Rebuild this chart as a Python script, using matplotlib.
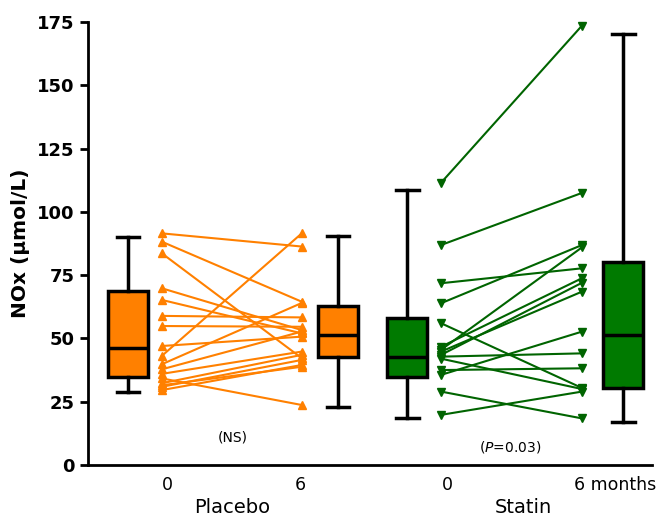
import matplotlib
matplotlib.use('Agg')
import matplotlib.pyplot as plt

plt.rcParams['font.family'] = ['DejaVu Sans']

# paired values (baseline, 6 months)
placebo_0 = [91.5, 88.2, 83.6, 69.8, 65.2, 58.9, 54.9, 47.0, 43.1, 39.8, 37.8, 36.0, 34.2, 32.3, 30.9, 29.6, 31.5]
placebo_6 = [86.3, 64.5, 42.2, 53.3, 52.0, 58.3, 54.6, 50.7, 91.5, 64.0, 52.7, 44.8, 23.7, 43.5, 41.5, 39.5, 38.8]
statin_0 = [111.5, 86.9, 71.8, 63.9, 56.0, 46.7, 45.5, 44.8, 43.5, 42.8, 42.0, 37.5, 35.6, 29.0, 19.8]
statin_6 = [173.6, 107.5, 77.7, 86.9, 30.4, 73.8, 86.0, 68.5, 72.0, 44.1, 30.0, 38.2, 52.7, 18.4, 29.0]

# box summaries: whisker low, q1, median, q3, whisker high
box_names = ['Placebo 0', 'Placebo 6', 'Statin 0', 'Statin 6']
box_lo = [28.8, 22.9, 18.6, 17.1]
box_q1 = [34.8, 42.7, 34.8, 30.4]
box_med = [46.2, 51.4, 42.7, 51.4]
box_q3 = [68.8, 62.8, 58.1, 80.3]
box_hi = [90.0, 90.5, 108.5, 170.3]

tick_labels = ['0', '6', '0', '6 months']
group_labels = ['Placebo', 'Statin']

orange = '#FF8000'
green_box = '#007A00'
green_line = '#006400'

fig = plt.figure(figsize=(6.66, 5.21), dpi=100)
ax = fig.add_axes([0.1321, 0.1075, 0.979 - 0.1321, 0.9578 - 0.1075])

box_pos = [0.71, 4.43, 5.66, 9.49]
pair_x = [1.31, 3.79, 6.26, 8.76]

stats = []
for i, name in enumerate(box_names):
    stats.append(dict(label=name, whislo=box_lo[i], q1=box_q1[i], med=box_med[i],
                      q3=box_q3[i], whishi=box_hi[i], fliers=[]))

bp = ax.bxp(stats, positions=box_pos, widths=0.71, patch_artist=True,
            showfliers=False, manage_ticks=False,
            boxprops=dict(linewidth=2.5, edgecolor='black'),
            medianprops=dict(color='black', linewidth=2.5),
            whiskerprops=dict(color='black', linewidth=2.5),
            capprops=dict(color='black', linewidth=2.5),
            capwidths=0.4)
for patch, c in zip(bp['boxes'], [orange, orange, green_box, green_box]):
    patch.set_facecolor(c)

for a, b in zip(placebo_0, placebo_6):
    ax.plot([pair_x[0], pair_x[1]], [a, b], color=orange, lw=1.5,
            marker='^', markersize=5.5, clip_on=False)
for a, b in zip(statin_0, statin_6):
    ax.plot([pair_x[2], pair_x[3]], [a, b], color=green_line, lw=1.5,
            marker='v', markersize=5.5, clip_on=False)

ax.set_xlim(0, 10)
ax.set_ylim(0, 175)
ax.set_yticks(range(0, 176, 25))
ax.set_xticks([1.40, 3.76, 6.38, 9.34])
ax.set_xticklabels(tick_labels, fontsize=12.5)
ax.tick_params(axis='x', length=0, pad=8)
ax.tick_params(axis='y', length=6, width=2, labelsize=13)
for lbl in ax.get_yticklabels():
    lbl.set_fontweight('bold')

for s in ['top', 'right']:
    ax.spines[s].set_visible(False)
for s in ['left', 'bottom']:
    ax.spines[s].set_linewidth(2)

ax.set_ylabel('NOx (\u03bcmol/L)', fontsize=14.5, fontweight='bold', labelpad=5)

trans = ax.get_xaxis_transform()
ax.text(2.55, -0.097, group_labels[0], transform=trans, ha='center', va='center', fontsize=14)
ax.text(7.72, -0.097, group_labels[1], transform=trans, ha='center', va='center', fontsize=14)
ax.text(2.57, 10.7, '(NS)', ha='center', va='center', fontsize=10)
ax.text(7.48, 7.1, '($\\it{P}$=0.03)', ha='center', va='center', fontsize=10)

fig.savefig('out.png', dpi=100)
